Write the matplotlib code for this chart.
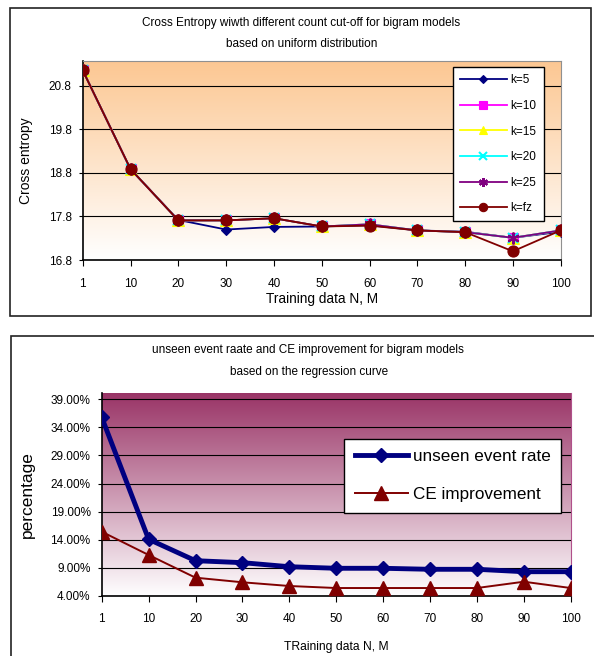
import matplotlib
matplotlib.use("Agg")
import matplotlib.pyplot as plt
import numpy as np
from matplotlib.colors import LinearSegmentedColormap
from matplotlib.patches import Rectangle

plt.rcParams['font.family'] = ['Liberation Sans', 'DejaVu Sans']

# data
sizes = ['1', '10', '20', '30', '40', '50', '60', '70', '80', '90', '100']
ce_k5 = [21.16, 18.89, 17.72, 17.50, 17.56, 17.57, 17.60, 17.48, 17.45, 17.31, 17.45]
ce_k10 = [21.16, 18.89, 17.71, 17.71, 17.76, 17.57, 17.62, 17.48, 17.44, 17.31, 17.48]
ce_k15 = [21.16, 18.89, 17.71, 17.71, 17.76, 17.57, 17.62, 17.48, 17.44, 17.31, 17.48]
ce_k20 = [21.16, 18.89, 17.71, 17.71, 17.76, 17.57, 17.62, 17.48, 17.44, 17.31, 17.48]
ce_k25 = [21.16, 18.89, 17.71, 17.71, 17.76, 17.57, 17.62, 17.48, 17.44, 17.31, 17.48]
ce_kfz = [21.16, 18.89, 17.71, 17.71, 17.76, 17.57, 17.59, 17.48, 17.44, 17.00, 17.48]

unseen_rate = [35.8, 14.09, 10.28, 9.93, 9.21, 8.93, 8.93, 8.75, 8.75, 8.32, 8.32]
ce_improve = [15.44, 11.3, 7.26, 6.44, 5.78, 5.42, 5.42, 5.42, 5.42, 6.54, 5.42]

W, H = 594, 656
fig = plt.figure(figsize=(W / 100, H / 100), dpi=100)


def box(l, t, r, b):
    # pixel box -> figure fraction rect
    return [l / W, 1 - b / H, (r - l) / W, (b - t) / H]


def gradient(ax, top_color):
    cmap = LinearSegmentedColormap.from_list('g', ['white', top_color])
    grad = np.linspace(0, 1, 256).reshape(-1, 1)
    ax.imshow(grad, cmap=cmap, origin='lower', extent=[0, 1, 0, 1],
              transform=ax.transAxes, aspect='auto', zorder=0)


# outer frames
fig.patches.append(Rectangle((10 / W, 1 - 316 / H), 581 / W, 308 / H, fill=False,
                             edgecolor='#222222', lw=1.2, transform=fig.transFigure))
fig.patches.append(Rectangle((11 / W, -0.1), 1.0, 1 - 335.5 / H + 0.1, fill=False,
                             edgecolor='#222222', lw=1.2, transform=fig.transFigure))

x = np.arange(len(sizes))

# ---------------- top chart ----------------
ax1 = fig.add_axes(box(82.7, 60.7, 560.7, 260))
gradient(ax1, '#FCC792')
series = [
    (ce_k5, 'k=5', '#000080', 'D', 5.5),
    (ce_k10, 'k=10', '#FF00FF', 's', 7.0),
    (ce_k15, 'k=15', '#FFFF00', '^', 8.0),
    (ce_k20, 'k=20', '#00FFFF', 'x', 7.0),
    (ce_k25, 'k=25', '#800080', (6, 2, 0), 8.5),
    (ce_kfz, 'k=fz', '#800000', 'o', 8.0),
]
for ys, lab, col, mk, ms in series:
    ax1.plot(x, ys, color=col, marker=mk, markersize=ms, lw=1.3, label=lab,
             markeredgewidth=1.5 if mk in ('x', (6, 2, 0)) else 0.8, zorder=3)
ax1.set_xlim(0, 10)
ax1.set_ylim(16.8, 21.38)
ax1.set_yticks([16.8, 17.8, 18.8, 19.8, 20.8])
ax1.set_yticklabels(['16.8', '17.8', '18.8', '19.8', '20.8'])
ax1.set_xticks(x)
ax1.set_xticklabels(sizes)
ax1.grid(axis='y', color='black', lw=0.8)
ax1.set_axisbelow(True)
ax1.tick_params(axis='x', direction='out', length=4, pad=9, labelsize=8.5)
ax1.tick_params(axis='y', direction='out', length=3, pad=5, labelsize=8.5)
ax1.spines['top'].set_color('#909090')
ax1.spines['right'].set_color('#909090')
ax1.spines['left'].set_linewidth(1.2)
ax1.spines['bottom'].set_linewidth(1.2)
ax1.set_ylabel('Cross entropy', fontsize=10, labelpad=11)
leg1 = ax1.legend(loc='upper left', bbox_to_anchor=(452.7 / W, 1 - 67.3 / H),
                  bbox_transform=fig.transFigure, fontsize=8.5, frameon=True,
                  fancybox=False, edgecolor='black', framealpha=1,
                  handlelength=4.0, handletextpad=0.3, labelspacing=1.15,
                  borderpad=0.6, borderaxespad=0, markerscale=0.75)
leg1.get_frame().set_linewidth(1.0)

fig.text(301.5 / W, 1 - 22.7 / H, 'Cross Entropy wiwth different count cut-off for bigram models',
         ha='center', va='center', fontsize=8.5)
fig.text(301.7 / W, 1 - 44.3 / H, 'based on uniform distribution',
         ha='center', va='center', fontsize=8.5)
fig.text(321.7 / W, 1 - 299 / H, 'Training data N, M', ha='center', va='center',
         fontsize=9.8)

# ---------------- bottom chart ----------------
ax2 = fig.add_axes(box(101.7, 392.5, 570.7, 596))
gradient(ax2, '#993366')
ax2.plot(x, unseen_rate, color='#000080', marker='D', markersize=7, lw=3.5,
         label='unseen event rate', zorder=3)
ax2.plot(x, ce_improve, color='#800000', marker='^', markersize=10, lw=1.4,
         label='CE improvement', zorder=3)
ax2.set_xlim(0, 10)
ax2.set_ylim(4, 40.2)
yt = [4, 9, 14, 19, 24, 29, 34, 39]
ax2.set_yticks(yt)
ax2.set_yticklabels(['%.2f%%' % v for v in yt])
ax2.set_xticks(x)
ax2.set_xticklabels(sizes)
ax2.grid(axis='y', color='black', lw=0.8)
ax2.set_axisbelow(True)
ax2.tick_params(axis='x', direction='out', length=4, pad=8, labelsize=8.5)
ax2.tick_params(axis='y', direction='out', length=3, pad=5, labelsize=8.5)
ax2.spines['top'].set_visible(False)
ax2.spines['right'].set_color('#B0508A')
ax2.spines['left'].set_linewidth(1.2)
ax2.spines['bottom'].set_linewidth(1.2)
ax2.set_ylabel('percentage', fontsize=12.5, labelpad=11.5)
leg2 = ax2.legend(loc='upper left', bbox_to_anchor=(344.3 / W, 1 - 439 / H),
                  bbox_transform=fig.transFigure, fontsize=12.3, frameon=True,
                  fancybox=False, edgecolor='black', framealpha=1,
                  handlelength=3.1, handletextpad=0.32, labelspacing=1.35,
                  borderpad=0.6, borderaxespad=0, markerscale=1.0)
leg2.get_frame().set_linewidth(1.0)

fig.text(308 / W, 1 - 350 / H, 'unseen event raate and CE improvement for bigram models',
         ha='center', va='center', fontsize=8.5)
fig.text(308.7 / W, 1 - 371.7 / H, 'based on the regression curve',
         ha='center', va='center', fontsize=8.5)
fig.text(336 / W, 1 - 646.7 / H, 'TRaining data N, M', ha='center', va='center',
         fontsize=8.7)

fig.savefig('out.png', dpi=100)
